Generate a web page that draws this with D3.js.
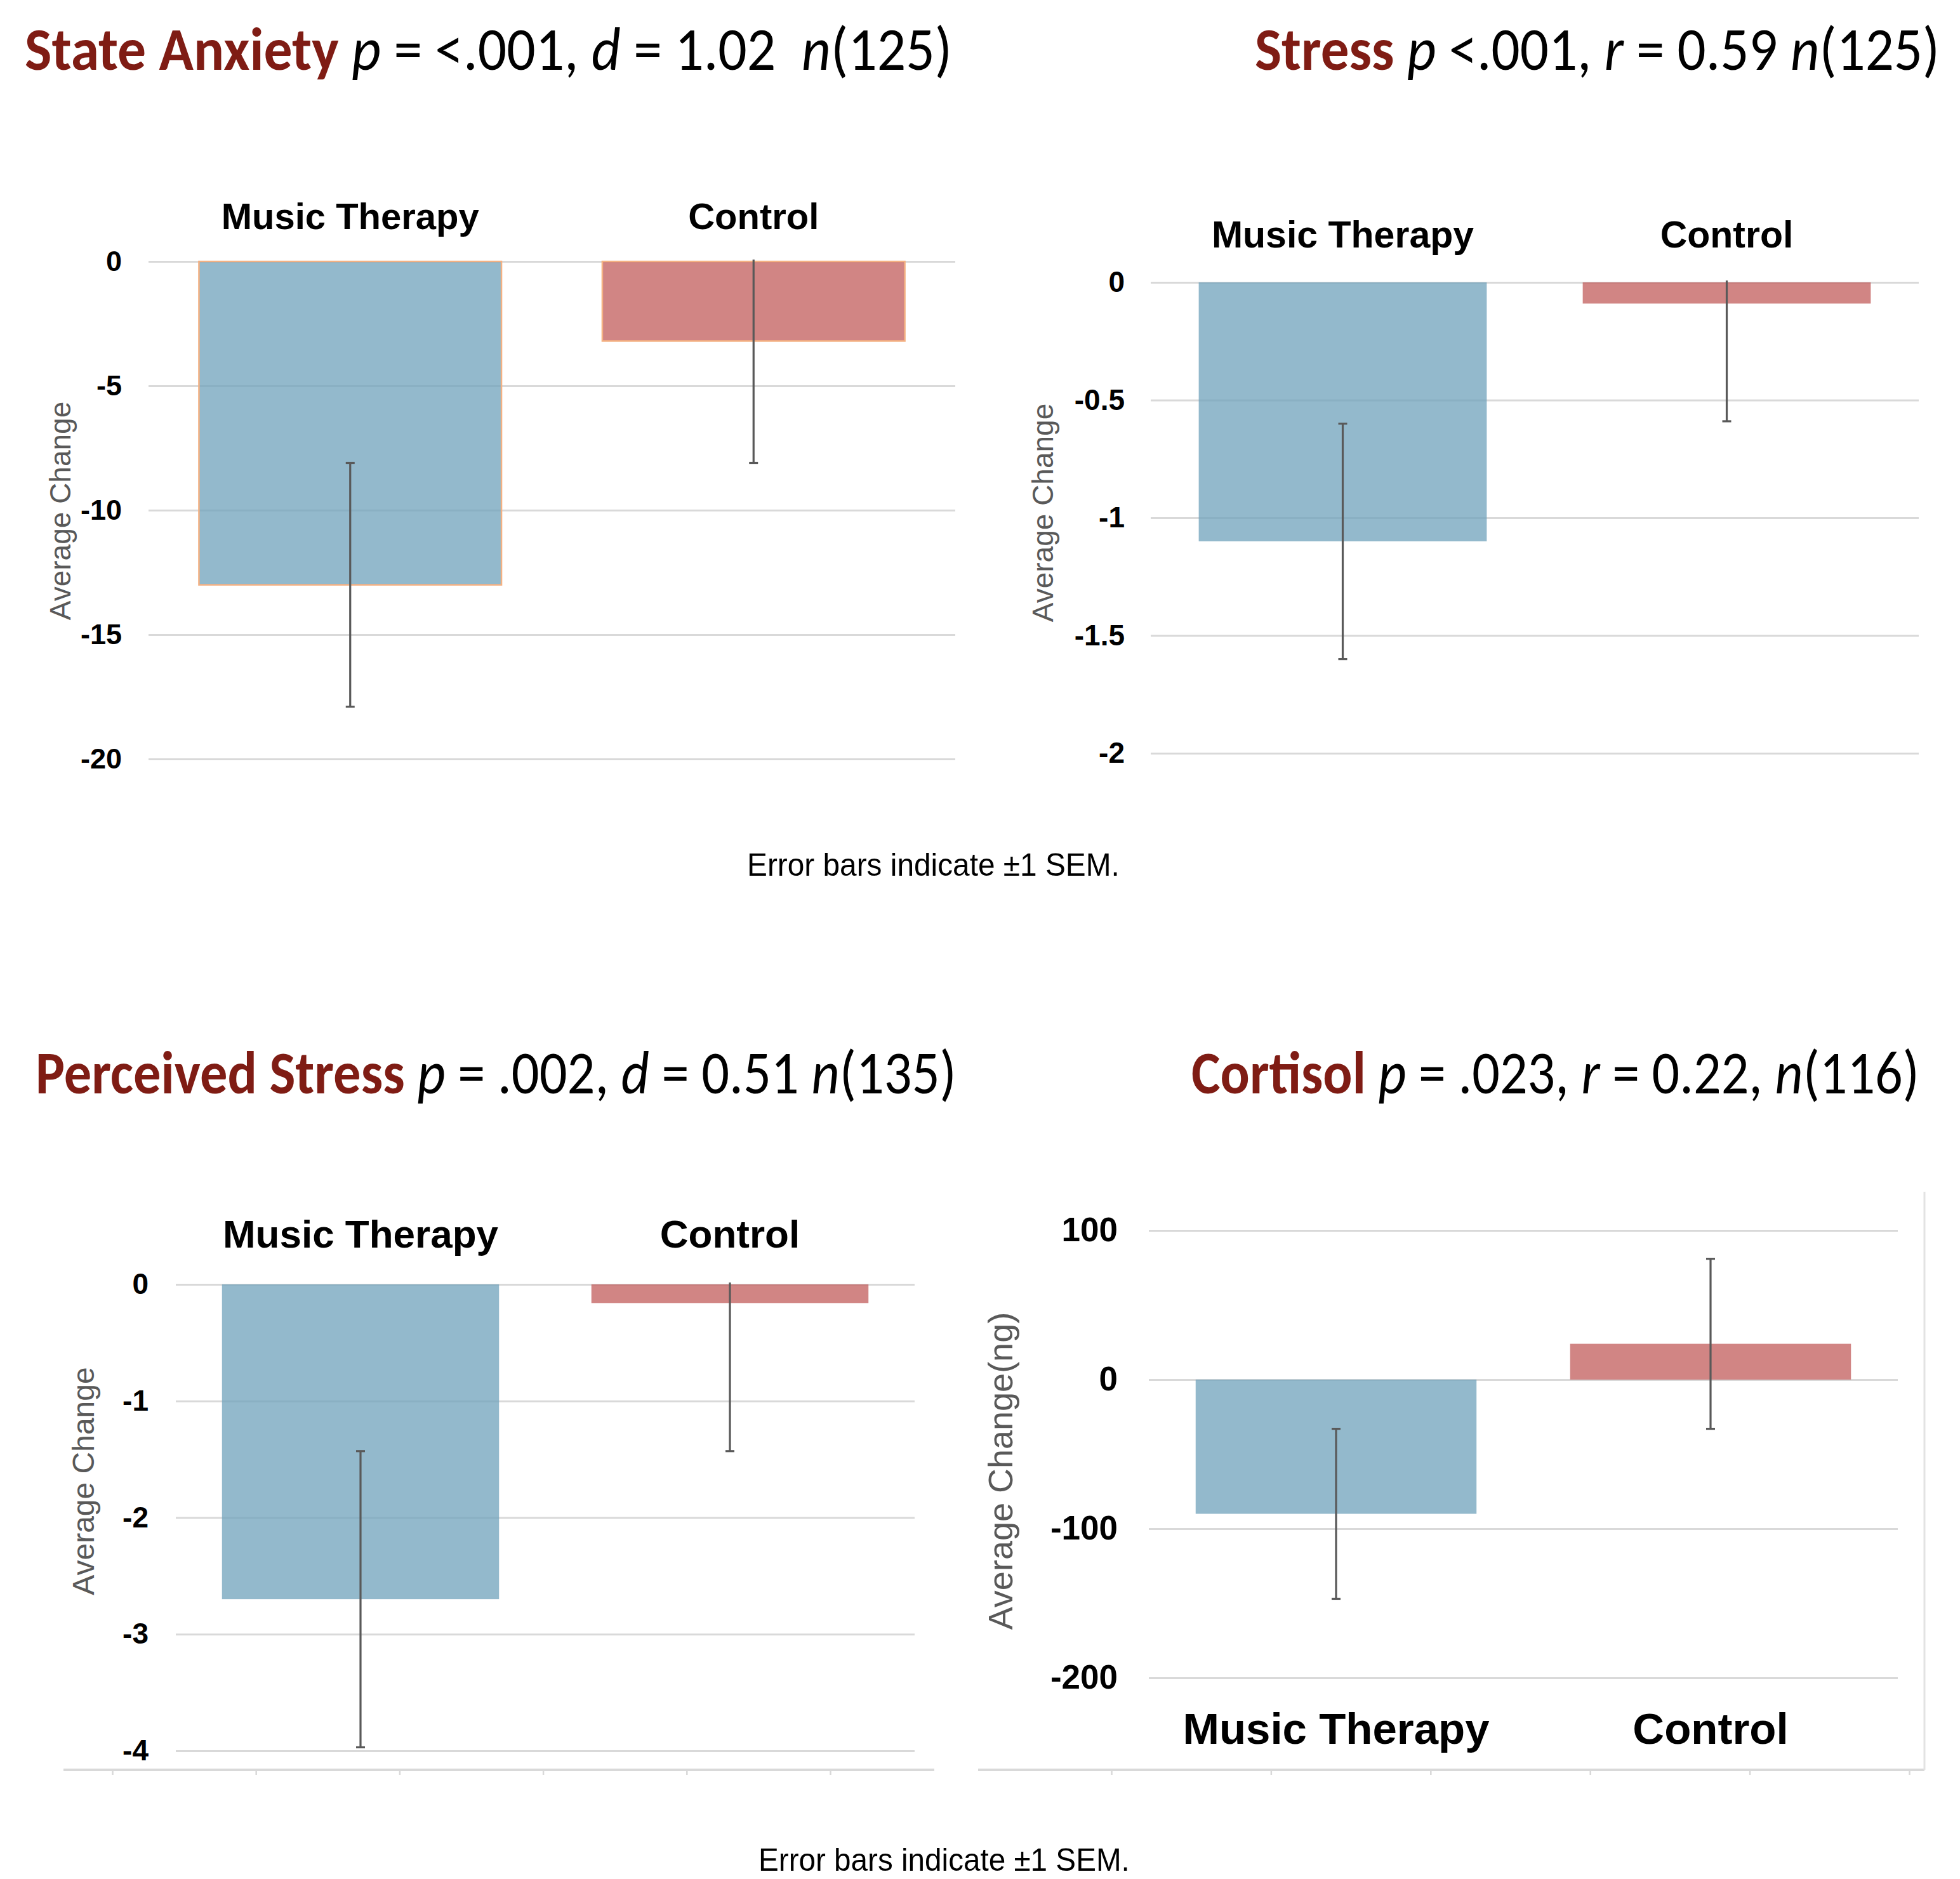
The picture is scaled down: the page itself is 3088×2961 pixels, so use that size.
<!DOCTYPE html>
<html>
<head>
<meta charset="utf-8">
<script src="https://cdn.jsdelivr.net/npm/d3@7"></script>
<style>
  body { margin: 0; background: #fff; }
  text { white-space: pre; }
</style>
</head>
<body>
<svg id="chart" width="3088" height="2961"></svg>
<script>
// ---- data ----
const groups = ["Music Therapy", "Control"];

const anxietyMean = [-13.0, -3.2];
const anxietySem = [4.9, 4.9];
const anxietyTicks = [0, -5, -10, -15, -20];

const stressMean = [-1.1, -0.09];
const stressSem = [0.5, 0.5];
const stressTicks = [0, -0.5, -1, -1.5, -2];

const perceivedMean = [-2.7, -0.16];
const perceivedSem = [1.27, 1.27];
const perceivedTicks = [0, -1, -2, -3, -4];

const cortisolMean = [-90, 24];
const cortisolSem = [57, 57];
const cortisolTicks = [100, 0, -100, -200];

const anxietyTitle = [["State Anxiety", "lead"], [" "], ["p", "it"], [" = <.001, "], ["d", "it"], [" = 1.02  "], ["n", "it"], ["(125)"]];
const stressTitle = [["Stress", "lead"], [" "], ["p", "it"], [" <.001, "], ["r", "it"], [" = 0.59 "], ["n", "it"], ["(125)"]];
const perceivedTitle = [["Perceived Stress", "lead"], [" "], ["p", "it"], [" = .002, "], ["d", "it"], [" = 0.51 "], ["n", "it"], ["(135)"]];
const cortisolTitle = [["Cortisol", "lead"], [" "], ["p", "it"], [" = .023, "], ["r", "it"], [" = 0.22, "], ["n", "it"], ["(116)"]];

const footnote = "Error bars indicate \u00b11 SEM.";

const barColors = ["#6fa2bb", "#c25c5b"];
const titleRed = "#7f1c14";
const gridColor = "#d9d9d9";
const errColor = "#595959";

const panels = [
  { title: anxietyTitle, mean: anxietyMean, sem: anxietySem, ticks: anxietyTicks, domain: [-20, 0],
    xr: [234, 1505], yr: [1196, 412], titleX: [39, 1500], titleY: 110,
    yLabel: "Average Change", yLabelAt: [95, 805], yLabelSize: 46, tickSize: 45, tickPad: 42,
    catSize: 58, catY: 361, barStroke: "#f4b183" },
  { title: stressTitle, mean: stressMean, sem: stressSem, ticks: stressTicks, domain: [-2, 0],
    xr: [1813, 3023], yr: [1187, 445], titleX: [1977, 3056], titleY: 110,
    yLabel: "Average Change", yLabelAt: [1643, 808], yLabelSize: 46, tickSize: 46, tickPad: 41,
    catSize: 59, catY: 390 },
  { title: perceivedTitle, mean: perceivedMean, sem: perceivedSem, ticks: perceivedTicks, domain: [-4, 0],
    xr: [277, 1441], yr: [2759, 2024], titleX: [56, 1507], titleY: 1723,
    yLabel: "Average Change", yLabelAt: [131, 2334], yLabelSize: 48, tickSize: 46, tickPad: 43,
    catSize: 62, catY: 1966,
    frame: { line: [100, 1472], ticks: [177, 1308], y: 2789 } },
  { title: cortisolTitle, mean: cortisolMean, sem: cortisolSem, ticks: cortisolTicks, domain: [-200, 100],
    xr: [1810, 2990], yr: [2644, 1939], titleX: [1877, 3024], titleY: 1723,
    yLabel: "Average Change(ng)", yLabelAt: [1576, 2318], yLabelSize: 54, tickSize: 53, tickPad: 49,
    catSize: 69, catY: 2748,
    frame: { line: [1541, 3032], ticks: [1751, 3008], y: 2789, right: 1878 } }
];

const svg = d3.select("#chart");

// stretch/squeeze a text node so it spans [x0, x1]
function fitText(sel, x0, x1, y) {
  const w = sel.node().getComputedTextLength();
  sel.attr("transform", `translate(${x0},${y}) scale(${(x1 - x0) / w},1)`);
}

panels.forEach((p, pi) => {
  const g = svg.append("g");

  const x = d3.scaleBand().domain(groups).range(p.xr).paddingInner(0.25).paddingOuter(0.125);
  const y = d3.scaleLinear().domain(p.domain).range(p.yr);

  // title
  const t = g.append("text")
    .attr("xml:space", "preserve")
    .style("font-family", "Carlito, Lato, sans-serif")
    .style("font-size", "96px")
    .attr("fill", "#000");
  t.selectAll("tspan").data(p.title).join("tspan")
    .text(d => d[0])
    .attr("fill", d => d[1] === "lead" ? titleRed : "#000")
    .attr("font-weight", d => d[1] === "lead" ? 700 : 400)
    .attr("font-style", d => d[1] === "it" ? "italic" : "normal");
  fitText(t, p.titleX[0], p.titleX[1], p.titleY);

  // y axis with gridlines (plain hyphen for negatives, as in the original)
  const yAxis = g.append("g")
    .attr("transform", `translate(${p.xr[0]},0)`)
    .call(d3.axisLeft(y).tickValues(p.ticks)
      .tickSizeInner(-(p.xr[1] - p.xr[0])).tickSizeOuter(0).tickPadding(p.tickPad)
      .tickFormat(d => String(d)));
  yAxis.select(".domain").remove();
  yAxis.selectAll(".tick line").attr("stroke", gridColor).attr("stroke-width", 3);
  yAxis.selectAll(".tick text")
    .attr("fill", "#000")
    .style("font-family", "'Liberation Sans', Arial, sans-serif")
    .style("font-weight", "700")
    .style("font-size", p.tickSize + "px");

  // y title
  g.append("text")
    .attr("transform", `translate(${p.yLabelAt[0]},${p.yLabelAt[1]}) rotate(-90)`)
    .attr("text-anchor", "middle")
    .attr("dominant-baseline", "central")
    .attr("fill", "#595959")
    .style("font-family", "'Liberation Sans', Arial, sans-serif")
    .style("font-size", p.yLabelSize + "px")
    .text(p.yLabel);

  // bars
  g.append("g").selectAll("rect").data(groups).join("rect")
    .attr("x", d => x(d))
    .attr("width", x.bandwidth())
    .attr("y", (d, i) => y(Math.max(0, p.mean[i])))
    .attr("height", (d, i) => Math.abs(y(p.mean[i]) - y(0)))
    .attr("fill", (d, i) => barColors[i])
    .attr("fill-opacity", 0.75)
    .attr("stroke", p.barStroke || "none")
    .attr("stroke-width", p.barStroke ? 2.5 : 0);

  // error bars, clipped to the plot area like the original
  const clipId = "clip" + pi;
  g.append("clipPath").attr("id", clipId).append("rect")
    .attr("x", p.xr[0]).attr("width", p.xr[1] - p.xr[0])
    .attr("y", p.yr[1] - 3).attr("height", p.yr[0] - p.yr[1] + 30);
  const eb = g.append("g").attr("clip-path", `url(#${clipId})`)
    .attr("stroke", errColor).attr("stroke-width", 3.2);
  groups.forEach((d, i) => {
    const cx = x(d) + x.bandwidth() / 2;
    const hi = y(p.mean[i] + p.sem[i]);
    const lo = y(p.mean[i] - p.sem[i]);
    eb.append("line").attr("x1", cx).attr("x2", cx).attr("y1", hi).attr("y2", lo);
    [hi, lo].forEach(v => eb.append("line").attr("x1", cx - 7).attr("x2", cx + 7).attr("y1", v).attr("y2", v));
  });

  // category labels
  g.append("g").selectAll("text").data(groups).join("text")
    .attr("x", d => x(d) + x.bandwidth() / 2)
    .attr("y", p.catY)
    .attr("text-anchor", "middle")
    .attr("fill", "#000")
    .style("font-family", "'Liberation Sans', Arial, sans-serif")
    .style("font-weight", "700")
    .style("font-size", p.catSize + "px")
    .text(d => d);

  // leftover chart-area frame at the bottom of the lower charts
  if (p.frame) {
    const f = p.frame;
    const fx = d3.scaleLinear().domain([0, 5]).range(f.ticks);
    const fa = g.append("g")
      .attr("transform", `translate(0,${f.y})`)
      .call(d3.axisBottom(fx).ticks(6).tickSizeInner(8).tickSizeOuter(0).tickFormat(""));
    fa.select(".domain").remove();
    fa.selectAll(".tick line").attr("stroke", gridColor).attr("stroke-width", 2.5);
    g.append("line")
      .attr("x1", f.line[0]).attr("x2", f.line[1]).attr("y1", f.y).attr("y2", f.y)
      .attr("stroke", gridColor).attr("stroke-width", 4);
    if (f.right) {
      g.append("line")
        .attr("x1", f.line[1]).attr("x2", f.line[1]).attr("y1", f.right).attr("y2", f.y)
        .attr("stroke", "#e3e3e3").attr("stroke-width", 3);
    }
  }
});

// footnotes
[[1177, 1764, 1380], [1195, 1780, 2948]].forEach(([x0, x1, yy]) => {
  const ft = svg.append("text")
    .attr("fill", "#000")
    .style("font-family", "'Liberation Sans', Arial, sans-serif")
    .style("font-size", "50px")
    .text(footnote);
  fitText(ft, x0, x1, yy);
});
</script>
</body>
</html>
